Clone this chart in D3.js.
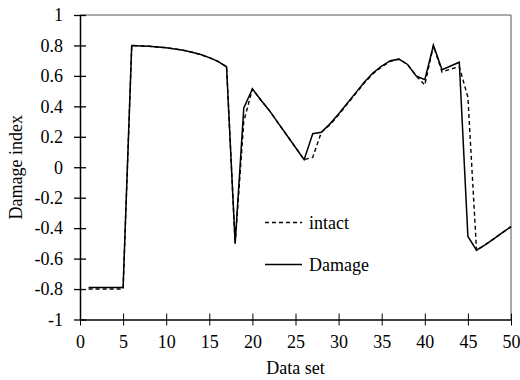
<!DOCTYPE html>
<html>
<head>
<meta charset="utf-8">
<script src="https://cdn.jsdelivr.net/npm/d3@7/dist/d3.min.js"></script>
<style>
html,body{margin:0;padding:0;background:#fff;}
svg text{font-family:"Liberation Serif","Times New Roman",Times,"DejaVu Serif",serif !important;fill:#000;}
</style>
</head>
<body>
<svg id="chart" width="520" height="380"></svg>
<script>
const dataSet = [1,2,3,4,5,6,7,8,9,10,11,12,13,14,15,16,17,18,19,20,21,22,23,24,25,26,27,28,29,30,31,32,33,34,35,36,37,38,39,40,41,42,43,44,45,46,47,48,49,50];
const damage = [-0.79,-0.79,-0.79,-0.79,-0.79,0.80,0.797,0.795,0.79,0.785,0.777,0.768,0.755,0.74,0.72,0.695,0.66,-0.50,0.39,0.515,0.44,0.37,0.29,0.21,0.13,0.05,0.22,0.23,0.285,0.35,0.42,0.49,0.56,0.62,0.665,0.70,0.71,0.675,0.60,0.575,0.80,0.64,0.665,0.69,-0.455,-0.545,-0.51,-0.47,-0.43,-0.39];
const intact = [-0.80,-0.80,-0.80,-0.80,-0.80,0.80,0.797,0.795,0.79,0.785,0.777,0.768,0.755,0.74,0.72,0.695,0.66,-0.50,0.30,0.515,0.44,0.37,0.29,0.21,0.13,0.05,0.065,0.23,0.28,0.345,0.415,0.485,0.555,0.615,0.66,0.695,0.71,0.675,0.60,0.54,0.80,0.625,0.645,0.66,0.46,-0.545,-0.51,-0.47,-0.43,-0.39];
const xTicks = [0,5,10,15,20,25,30,35,40,45,50];
const yTicks = [-1,-0.8,-0.6,-0.4,-0.2,0,0.2,0.4,0.6,0.8,1];
const seriesNames = ["intact","Damage"];
const xTitle = "Data set";
const yTitle = "Damage index";

const svg = d3.select("#chart");
const L = 80, R = 511, T = 15, B = 319.5;
const FS = 18;
const x = d3.scaleLinear().domain([0,50]).range([L,R]);
const y = d3.scaleLinear().domain([-1,1]).range([B,T]);

// top & right border
svg.append("path")
  .attr("d", `M${L},${T}H${R}V${B}`)
  .attr("fill","none").attr("stroke","#555").attr("stroke-width",1);

const fmt = d => String(+d.toFixed(1));

const gx = svg.append("g").attr("transform",`translate(0,${B})`)
  .call(d3.axisBottom(x).tickValues(xTicks).tickSize(6).tickSizeOuter(0).tickPadding(10).tickFormat(fmt));
gx.selectAll(".tick line").attr("y1",-6).attr("stroke","#000");
gx.select(".domain").attr("stroke","#000").attr("stroke-width",1.3);
gx.selectAll("text").attr("font-size",FS);

const gy = svg.append("g").attr("transform",`translate(${L},0)`)
  .call(d3.axisLeft(y).tickValues(yTicks).tickSize(6).tickSizeOuter(0).tickPadding(11).tickFormat(fmt));
gy.selectAll(".tick line").attr("x1",6).attr("stroke","#000").attr("stroke-width",1.3);
gy.select(".domain").attr("stroke","#000").attr("stroke-width",1.5);
gy.selectAll("text").attr("font-size",FS);

const line = d3.line().x((d,i)=>x(dataSet[i])).y(d=>y(d));

svg.append("path").datum(intact).attr("d",line)
  .attr("fill","none").attr("stroke","#000").attr("stroke-width",1.4)
  .attr("stroke-dasharray","4,3");
svg.append("path").datum(damage).attr("d",line)
  .attr("fill","none").attr("stroke","#000").attr("stroke-width",1.5);

// legend
const lg = svg.append("g");
lg.append("line").attr("x1",265).attr("x2",302).attr("y1",222.5).attr("y2",222.5)
  .attr("stroke","#000").attr("stroke-width",1.4).attr("stroke-dasharray","4,3");
lg.append("text").attr("x",309).attr("y",229).attr("font-size",FS).text(seriesNames[0]);
lg.append("line").attr("x1",265).attr("x2",302).attr("y1",264.5).attr("y2",264.5)
  .attr("stroke","#000").attr("stroke-width",1.5);
lg.append("text").attr("x",309).attr("y",271).attr("font-size",FS).text(seriesNames[1]);

svg.append("text").attr("x",(L+R)/2).attr("y",374).attr("text-anchor","middle")
  .attr("font-size",FS).text(xTitle);
svg.append("text").attr("transform",`translate(22,${(T+B)/2}) rotate(-90)`)
  .attr("text-anchor","middle").attr("font-size",FS).text(yTitle);
</script>
</body>
</html>
